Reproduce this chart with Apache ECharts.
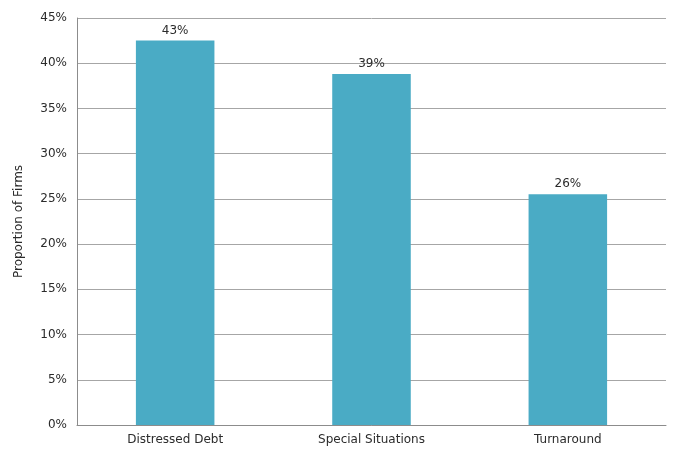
<!DOCTYPE html>
<html>
<head>
<meta charset="utf-8">
<script src="https://cdn.jsdelivr.net/npm/echarts@6/dist/echarts.min.js"></script>
<style>
  html, body { margin: 0; padding: 0; background: #fff; }
  #chart { width: 676px; height: 451px; }
</style>
</head>
<body>
<div id="chart"></div>
<script>
// Share of firms by strategy focus (percent)
const categories = ['Distressed Debt', 'Special Situations', 'Turnaround'];
const shares = [42.5, 38.8, 25.5];
const yTicks = { min: 0, max: 45, interval: 5 };

const font = '"DejaVu Sans", sans-serif';
const textColor = '#2b2b2b';
const chart = echarts.init(document.getElementById('chart'));
chart.setOption({
  animation: false,
  grid: { left: 77, right: 10, top: 18, bottom: 26 },
  xAxis: {
    type: 'category',
    data: categories,
    axisLine: { lineStyle: { color: '#8c8c8c', width: 1 } },
    axisTick: { show: false },
    axisLabel: { color: textColor, fontFamily: font, fontSize: 12, margin: 9 }
  },
  yAxis: {
    type: 'value',
    min: yTicks.min, max: yTicks.max, interval: yTicks.interval,
    name: 'Proportion of Firms',
    nameLocation: 'middle',
    nameGap: 52,
    nameTextStyle: { color: textColor, fontFamily: font, fontSize: 12 },
    axisLine: { show: true, lineStyle: { color: '#8c8c8c', width: 1 } },
    axisTick: { show: false },
    splitLine: { lineStyle: { color: '#a6a6a6', width: 1 } },
    axisLabel: { color: textColor, fontFamily: font, fontSize: 12, margin: 10,
      formatter: v => v + '%' }
  },
  series: [{
    type: 'bar',
    data: shares,
    barWidth: '40%',
    itemStyle: { color: '#4aabc5' },
    label: {
      show: true, position: 'top', distance: 4,
      color: textColor, fontFamily: font, fontSize: 12,
      formatter: p => Math.round(p.value) + '%'
    }
  }]
});
</script>
</body>
</html>
